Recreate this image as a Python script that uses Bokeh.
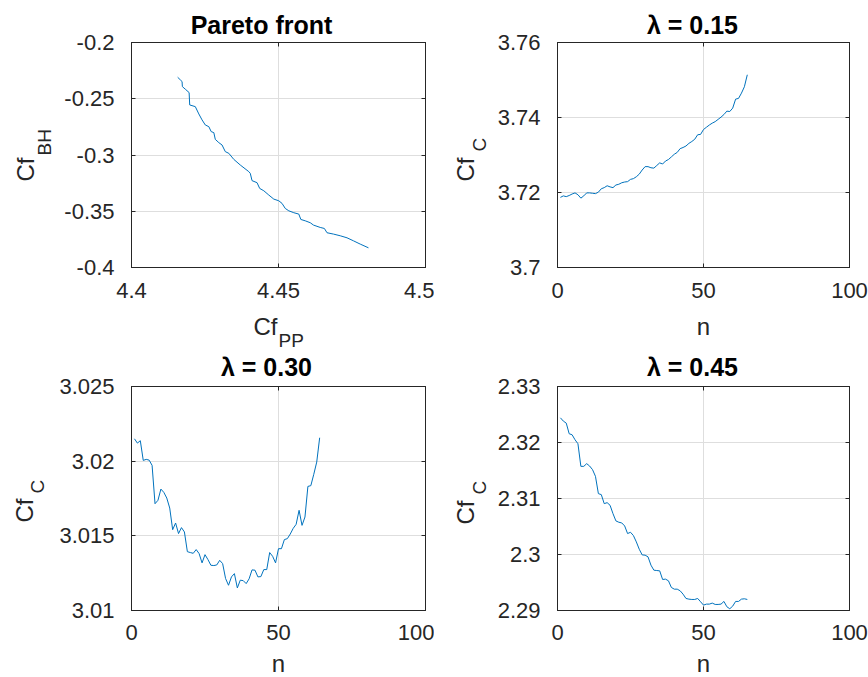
import math
from bokeh.plotting import figure
from bokeh.layouts import gridplot
from bokeh.models import Range1d, FixedTicker, LinearAxis, Label, CustomJSTickFormatter
from bokeh.embed import file_html
from bokeh.resources import INLINE

# ---------------- data ----------------
pareto_cf_pp = [4.4157, 4.4166, 4.4172, 4.4173, 4.4183, 4.4196, 4.4198, 4.4217, 4.4229, 4.4240,
                4.4251, 4.4263, 4.4271, 4.4280, 4.4285, 4.4297, 4.4308, 4.4319, 4.4331, 4.4348,
                4.4370, 4.4399, 4.4404, 4.4410, 4.4427, 4.4436, 4.4450, 4.4467, 4.4484, 4.4501,
                4.4512, 4.4523, 4.4535, 4.4552, 4.4569, 4.4576, 4.4591, 4.4608, 4.4619, 4.4642,
                4.4656, 4.4665, 4.4687, 4.4710, 4.4733, 4.4755, 4.4778, 4.4806]
pareto_cf_bh = [-0.2309, -0.2332, -0.2347, -0.2392, -0.2415, -0.2445, -0.2555, -0.2570, -0.2635, -0.2688,
                -0.2733, -0.2748, -0.2792, -0.2801, -0.2861, -0.2890, -0.2911, -0.2970, -0.2985, -0.3039,
                -0.3089, -0.3148, -0.3163, -0.3228, -0.3246, -0.3297, -0.3318, -0.3356, -0.3392, -0.3407,
                -0.3430, -0.3475, -0.3496, -0.3513, -0.3525, -0.3573, -0.3585, -0.3602, -0.3623, -0.3644,
                -0.3653, -0.3691, -0.3703, -0.3718, -0.3736, -0.3763, -0.3792, -0.3825]

n_015 = list(range(1, 66))
cf_c_015 = [3.7187, 3.7191, 3.7189, 3.7192, 3.7196, 3.7199, 3.7194, 3.7185, 3.7191, 3.7199,
            3.7199, 3.7198, 3.7197, 3.7201, 3.7210, 3.7213, 3.7218, 3.7215, 3.7213, 3.7220,
            3.7222, 3.7226, 3.7228, 3.7229, 3.7235, 3.7237, 3.7242, 3.7249, 3.7260, 3.7269,
            3.7269, 3.7266, 3.7265, 3.7272, 3.7279, 3.7276, 3.7284, 3.7288, 3.7295, 3.7302,
            3.7307, 3.7317, 3.7320, 3.7324, 3.7331, 3.7336, 3.7342, 3.7354, 3.7355, 3.7368,
            3.7374, 3.7380, 3.7385, 3.7389, 3.7395, 3.7401, 3.7408, 3.7417, 3.7416, 3.7425,
            3.7449, 3.7451, 3.7465, 3.7482, 3.7514]

n_030 = list(range(1, 65))
cf_c_030 = [3.02150, 3.02121, 3.02137, 3.02005, 3.02012, 3.02007, 3.01972, 3.01715, 3.01738, 3.01813,
            3.01791, 3.01753, 3.01686, 3.01541, 3.01586, 3.01515, 3.01555, 3.01526, 3.01394, 3.01388,
            3.01383, 3.01408, 3.01381, 3.01319, 3.01374, 3.01341, 3.01303, 3.01301, 3.01305, 3.01336,
            3.01314, 3.01214, 3.01169, 3.01225, 3.01247, 3.01151, 3.01203, 3.01200, 3.01180, 3.01212,
            3.01272, 3.01270, 3.01225, 3.01227, 3.01274, 3.01274, 3.01388, 3.01363, 3.01319, 3.01414,
            3.01414, 3.01475, 3.01481, 3.01512, 3.01550, 3.01577, 3.01671, 3.01570, 3.01626, 3.01831,
            3.01836, 3.01912, 3.01994, 3.02157]

n_045 = list(range(1, 66))
cf_c_045 = [2.32441, 2.32382, 2.32346, 2.32156, 2.32138, 2.32049, 2.31978, 2.31574, 2.31574, 2.31622,
            2.31580, 2.31515, 2.31396, 2.31087, 2.31069, 2.30908, 2.30926, 2.30879, 2.30730, 2.30600,
            2.30576, 2.30564, 2.30510, 2.30374, 2.30397, 2.30338, 2.30225, 2.30094, 2.29993, 2.29988,
            2.29958, 2.29810, 2.29720, 2.29714, 2.29708, 2.29554, 2.29560, 2.29530, 2.29411, 2.29381,
            2.29381, 2.29352, 2.29292, 2.29215, 2.29203, 2.29197, 2.29197, 2.29215, 2.29156, 2.29096,
            2.29114, 2.29114, 2.29132, 2.29108, 2.29108, 2.29114, 2.29162, 2.29067, 2.29031, 2.29078,
            2.29162, 2.29162, 2.29203, 2.29209, 2.29197]

# ticks
pp_ticks = [4.4, 4.45, 4.5]
pp_tick_labels = ["4.4", "4.45", "4.5"]
bh_ticks = [-0.4, -0.35, -0.3, -0.25, -0.2]
bh_tick_labels = ["-0.4", "-0.35", "-0.3", "-0.25", "-0.2"]
n_ticks = [0, 50, 100]
n_tick_labels = ["0", "50", "100"]
c015_ticks = [3.70, 3.72, 3.74, 3.76]
c015_tick_labels = ["3.7", "3.72", "3.74", "3.76"]
c030_ticks = [3.010, 3.015, 3.020, 3.025]
c030_tick_labels = ["3.01", "3.015", "3.02", "3.025"]
c045_ticks = [2.29, 2.30, 2.31, 2.32, 2.33]
c045_tick_labels = ["2.29", "2.3", "2.31", "2.32", "2.33"]

titles = ["Pareto front", "\u03bb = 0.15", "\u03bb = 0.30", "\u03bb = 0.45"]

# ---------------- style ----------------
FONT = "Liberation Sans"
AX = "#262626"
LINE = "#0072BD"
TICK_FS = "22px"
LAB_FS = "24px"
SUB_FS = "19px"
TTL_FS = "25px"
# empirical baseline correction of the Label text (px, towards the text's "up")
SH_LAB = 8
SH_SUB = 6
SH_TTL = 8


def make_fig(w, h, left, right, top, bottom, xr, yr, xt, xtl, yt, ytl, xstand):
    p = figure(width=w, height=h, output_backend="svg", toolbar_location=None,
               x_range=Range1d(*xr), y_range=Range1d(*yr),
               min_border_left=left, min_border_right=right,
               min_border_top=top, min_border_bottom=bottom)
    p.background_fill_color = "white"
    p.border_fill_color = "white"
    p.outline_line_color = AX
    p.outline_line_width = 1
    p.xaxis.ticker = FixedTicker(ticks=xt)
    p.yaxis.ticker = FixedTicker(ticks=yt)
    p.xaxis.major_label_overrides = dict(zip(xt, xtl))
    p.yaxis.major_label_overrides = dict(zip(yt, ytl))
    for ax in (p.xaxis, p.yaxis):
        ax.axis_line_color = AX
        ax.major_tick_line_color = AX
        ax.major_tick_in = 4
        ax.major_tick_out = 0
        ax.minor_tick_line_color = None
        ax.major_label_text_font = FONT
        ax.major_label_text_font_size = TICK_FS
        ax.major_label_text_color = AX
    p.xaxis.major_label_standoff = xstand
    p.yaxis.major_label_standoff = 17
    p.xgrid.grid_line_color = "#dedede"
    p.ygrid.grid_line_color = "#dedede"
    blank = CustomJSTickFormatter(code="return ''")
    top_ax = LinearAxis(ticker=FixedTicker(ticks=xt), formatter=blank,
                        major_tick_in=4, major_tick_out=0, minor_tick_line_color=None,
                        axis_line_color=AX, major_tick_line_color=AX,
                        major_label_standoff=0, major_label_text_font_size="1px")
    right_ax = LinearAxis(ticker=FixedTicker(ticks=yt), formatter=blank,
                          major_tick_in=4, major_tick_out=0, minor_tick_line_color=None,
                          axis_line_color=AX, major_tick_line_color=AX,
                          major_label_standoff=0, major_label_text_font_size="1px")
    p.add_layout(top_ax, "above")
    p.add_layout(right_ax, "right")
    p._geom = (xr, yr, w - left - right, h - top - bottom)
    return p


def to_data(p, px, py):
    # frame-relative pixel offsets (x right, y up from the frame's bottom-left) -> data coords
    (x0, x1), (y0, y1), fw, fh = p._geom
    return x0 + px / fw * (x1 - x0), y0 + py / fh * (y1 - y0)


def lab(p, side, text, px, py, size, align="left", angle=0.0, bold=False):
    x, y = to_data(p, px, py)
    p.add_layout(Label(x=x, y=y, text=text, text_font=FONT, text_font_size=size,
                       text_color="black" if bold else AX, text_align=align,
                       text_baseline="alphabetic", angle=angle,
                       text_font_style="bold" if bold else "normal"), side)


def title(p, text, cx, by):
    lab(p, "above", text, cx, by + SH_TTL, TTL_FS, align="center", bold=True)


def xlab_sub(p, sub, jx, by, sjx, sby):
    lab(p, "below", "Cf", jx, by + SH_LAB, LAB_FS, align="right")
    lab(p, "below", sub, sjx, sby + SH_SUB, SUB_FS, align="left")


def xlab_n(p, by):
    lab(p, "below", "n", p._geom[2] / 2, by + SH_LAB, LAB_FS, align="center")


def ylab(p, sub, bx, jy, sbx, sjy):
    lab(p, "left", "Cf", bx - SH_LAB, jy, LAB_FS, align="right", angle=math.pi / 2)
    lab(p, "left", sub, sbx - SH_SUB, sjy, SUB_FS, align="left", angle=math.pi / 2)


# ---------- panel 1 : Pareto front ----------
p1 = make_fig(434, 352, 131, 9, 42, 85, (4.4, 4.5), (-0.4, -0.2),
              pp_ticks, pp_tick_labels, bh_ticks, bh_tick_labels, 15)
p1.line(pareto_cf_pp, pareto_cf_bh, line_color=LINE, line_width=1)
title(p1, titles[0], 130, 235)
xlab_sub(p1, "PP", 146, -67, 147, -79)
ylab(p1, "BH", -98, 110, -81, 112)

# ---------- panel 2 : lambda 0.15 ----------
p2 = make_fig(434, 352, 123, 19, 42, 85, (0, 100), (3.70, 3.76),
              n_ticks, n_tick_labels, c015_ticks, c015_tick_labels, 15)
p2.line(n_015, cf_c_015, line_color=LINE, line_width=1)
title(p2, titles[1], 135, 235)
xlab_n(p2, -67)
ylab(p2, "C", -84, 110, -72, 116)

# ---------- panel 3 : lambda 0.30 ----------
p3 = make_fig(434, 325, 131, 9, 34, 67, (0, 100), (3.010, 3.025),
              n_ticks, n_tick_labels, c030_ticks, c030_tick_labels, 14)
p3.line(n_030, cf_c_030, line_color=LINE, line_width=1)
title(p3, titles[2], 135, 236)
xlab_n(p3, -61)
ylab(p3, "C", -99, 112, -88, 117)

# ---------- panel 4 : lambda 0.45 ----------
p4 = make_fig(434, 325, 123, 19, 34, 67, (0, 100), (2.29, 2.33),
              n_ticks, n_tick_labels, c045_ticks, c045_tick_labels, 14)
p4.line(n_045, cf_c_045, line_color=LINE, line_width=1)
title(p4, titles[3], 135, 236)
xlab_n(p4, -61)
ylab(p4, "C", -84, 110, -72, 116)

grid = gridplot([[p1, p2], [p3, p4]], toolbar_location=None)
open("out.html", "w").write(file_html(grid, INLINE))
